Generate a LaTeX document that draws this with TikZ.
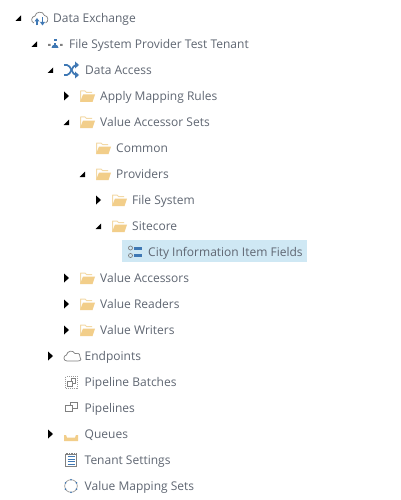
\documentclass[tikz,border=0pt]{standalone}
\usepackage{fontspec}
\setmainfont{Open Sans}
\definecolor{txt}{HTML}{5F6672}
\definecolor{fold}{HTML}{F2CE8A}
\definecolor{foldl}{HTML}{F3D9A6}
\definecolor{iconb}{HTML}{3F78B4}
\definecolor{icong}{HTML}{808080}
\definecolor{sel}{HTML}{CFE8F4}
\tikzset{
  lab/.style={anchor=base west,inner sep=0pt,text=txt,font=\fontsize{12}{14}\selectfont},
  exptri/.style={fill=black,draw=none},
  coltri/.style={fill=black,draw=none},
  thin icon/.style={draw=icong,line width=0.7pt,fill=none},
}
\newcommand{\expd}[2]{\fill[exptri] (#1+5.5,#2-2.5) -- (#1+5.5,#2+3) -- (#1,#2+3) -- cycle;}
\newcommand{\coll}[2]{\fill[coltri] (#1,#2-4.5) -- (#1+5,#2) -- (#1,#2+4.5) -- cycle;}
\newcommand{\folder}[2]{%
  \begin{scope}[shift={(#1,#2)}]
    \draw[foldl,line width=1pt,line join=round] (0.5,5) -- (0.5,-5) -- (5,-5) -- (6.5,-3.5) -- (12,-3.5);
    \fill[fold] (0,6) -- (3,-1.5) -- (15,-1.5) -- (12.5,6) -- cycle;
  \end{scope}}
\begin{document}
\begin{tikzpicture}[x=1pt,y=-1pt]
\useasboundingbox (0,0) rectangle (400,500);
\fill[white] (0,0) rectangle (400,500);
\fill[sel] (122,240) rectangle (307,262);
% triangles
\expd{15.5}{18}
\expd{31.5}{44}
\expd{47.5}{70}
\coll{64}{96}
\expd{63.5}{122}
\expd{79.5}{174}
\coll{96}{200}
\expd{95.5}{226}
\coll{64}{278}
\coll{64}{304}
\coll{64}{330}
\coll{48}{356}
\coll{48}{434}
% folders
\folder{80}{96}
\folder{80}{122}
\folder{96}{148}
\folder{96}{174}
\folder{112}{200}
\folder{112}{226}
\folder{80}{278}
\folder{80}{304}
\folder{80}{330}
% Data Exchange icon
\draw[thin icon] (34,23) .. controls (30.5,22) and (31,16.5) .. (35,16) .. controls (35.5,11.5) and (43,10.5) .. (44.5,15.5) .. controls (48.5,15.5) and (49,22) .. (45.5,23);
\draw[iconb,line width=1.4pt] (37,25.5) -- (37,19.5) (42.5,17.5) -- (42.5,23.5);
\fill[iconb] (34.5,21.5) -- (37,18) -- (39.5,21.5) -- cycle (40,22) -- (42.5,25.5) -- (45,22) -- cycle;
% tenant icon
\fill[iconb] (51.5,48) arc[start angle=180,end angle=360,radius=3.5] -- cycle;
\fill[iconb] (54.3,43.5) rectangle (55.7,46);
\fill[iconb] (53.5,39) rectangle (56.5,41.5);
\fill[icong] (48,44) rectangle (50.5,46) (60,44) rectangle (62.5,46);
% data access shuffle icon
\begin{scope}[iconb,line width=1.7pt]
\draw (64,65) -- (67,65) .. controls (71,65) and (72,75) .. (76,75) -- (77,75);
\draw (64,75) -- (67,75) .. controls (71,75) and (72,65) .. (76,65) -- (77,65);
\end{scope}
\fill[iconb] (75,61.5) -- (79,65) -- (75,68.5) -- cycle (75,71.5) -- (79,75) -- (75,78.5) -- cycle;
% item fields icon
\draw[icong,line width=0.7pt] (130.5,248) circle (2);
\draw[icong,line width=0.7pt] (130.5,255.5) circle (2);
\fill[iconb] (134,247) rectangle (142,250);
\fill[iconb] (134,254) rectangle (142,257);
% endpoints cloud
\draw[thin icon] (67,361) .. controls (63,361) and (63,355.5) .. (66.5,355) .. controls (67,351) and (73,349.5) .. (75,353.5) .. controls (79,352.5) and (81,355) .. (80,357) .. controls (81.5,358) and (81.5,361) .. (78,361) -- cycle;
% pipeline batches
\draw[icong!80,line width=0.7pt,dash pattern=on 1pt off 1pt] (65.5,376.5) rectangle (77.5,388.5);
\draw[icong,line width=0.6pt] (67.5,381) rectangle (72.5,386);
\draw[icong,line width=0.6pt] (71,378.5) -- (75.5,378.5) -- (75.5,383) -- (72.5,383) (71,381) -- (71,378.5);
% pipelines
\draw[icong,line width=0.7pt] (65.5,405) rectangle (72,411.5);
\draw[icong,line width=0.7pt] (70,405) -- (70,402) -- (77,402) -- (77,408) -- (72,408);
% queues
\fill[fold] (64,435) -- (66,435) -- (67,437.5) -- (75,437.5) -- (76,435) -- (78,435) -- (78,441) -- (64,441) -- cycle;
% tenant settings
\draw[icong,line width=0.8pt] (65.5,454) rectangle (76.5,466);
\draw[icong,line width=0.8pt,dash pattern=on 1pt off 0.7pt] (65.5,453) -- (76.5,453);
\foreach \yy in {456.5,459,461.5,464}{\draw[iconb,line width=0.8pt] (67.5,\yy) -- (74.5,\yy);}
% value mapping sets
\draw[icong!80,line width=0.7pt] (71,486) circle (6.3);
\foreach \aa in {0,60,...,300}{\fill[iconb] (71,486) ++(\aa+30:6.3) circle (0.9);}
% labels
\node[lab] (n1) at (53,22.5) {Data Exchange};
\node[lab] (n2) at (69,48.5) {File System Provider Test Tenant};
\node[lab] (n3) at (85,74.5) {Data Access};
\node[lab] (n4) at (100,100.5) {Apply Mapping Rules};
\node[lab] (n5) at (100,126.5) {Value Accessor Sets};
\node[lab] (n6) at (116,152.5) {Common};
\node[lab] (n7) at (116,178.5) {Providers};
\node[lab] (n8) at (132,204.5) {File System};
\node[lab] (n9) at (132,230.5) {Sitecore};
\node[lab] (n10) at (148,256.5) {City Information Item Fields};
\node[lab] (n11) at (100,282.5) {Value Accessors};
\node[lab] (n12) at (100,308.5) {Value Readers};
\node[lab] (n13) at (100,334.5) {Value Writers};
\node[lab] (n14) at (84.5,360.5) {Endpoints};
\node[lab] (n15) at (84.5,386.5) {Pipeline Batches};
\node[lab] (n16) at (84.5,412.5) {Pipelines};
\node[lab] (n17) at (84.5,438.5) {Queues};
\node[lab] (n18) at (84.5,464.5) {Tenant Settings};
\node[lab] (n19) at (84.5,490.5) {Value Mapping Sets};
\end{tikzpicture}
\end{document}
